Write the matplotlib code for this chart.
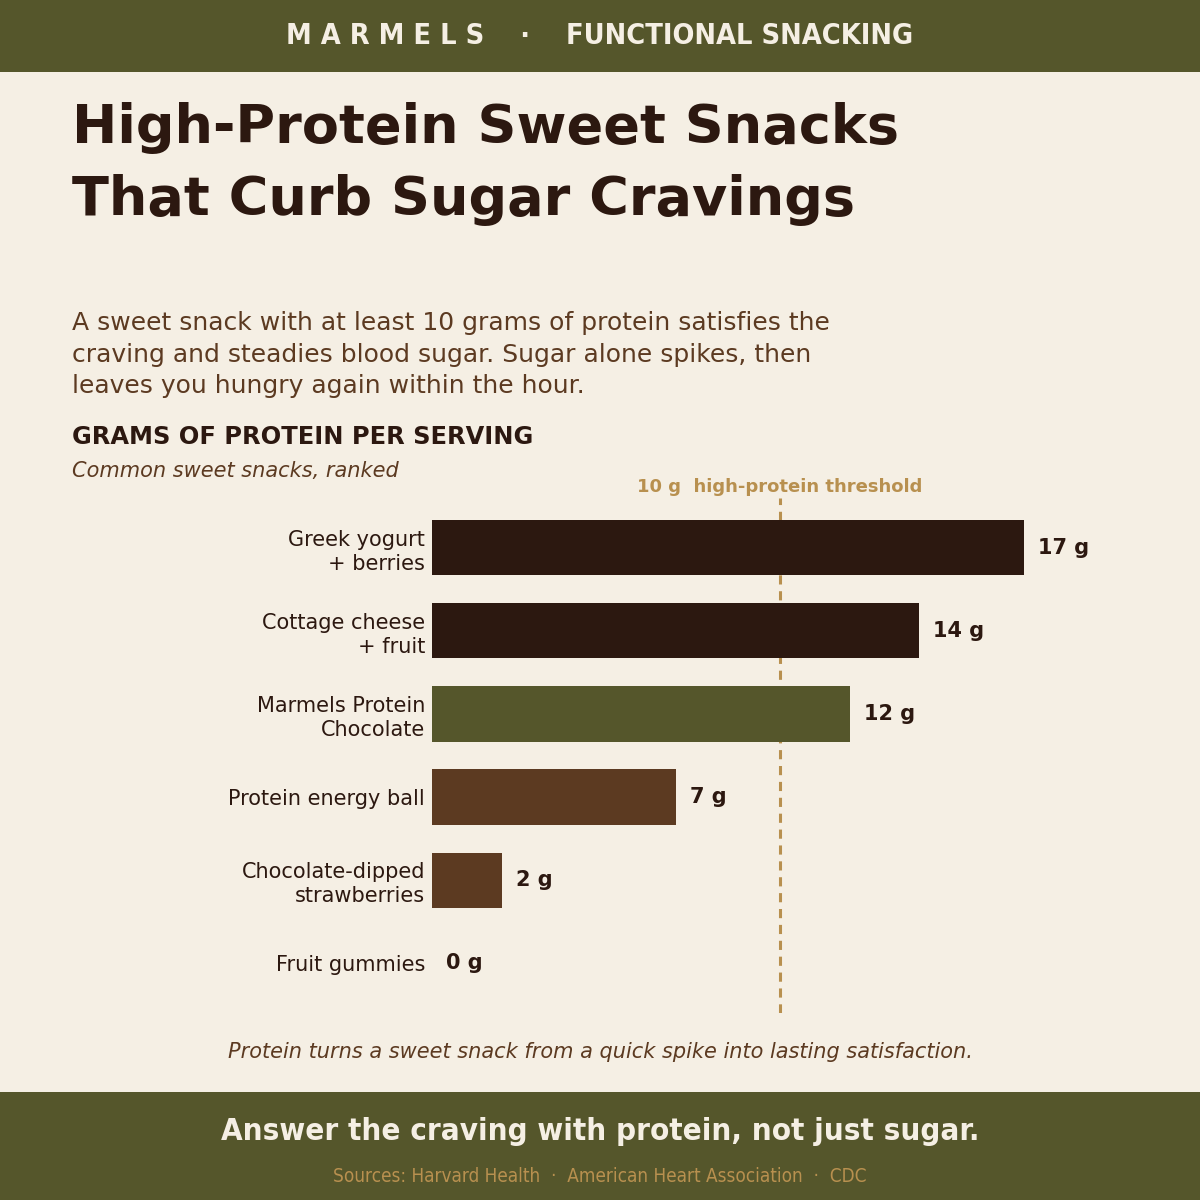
import matplotlib
matplotlib.use("Agg")
import matplotlib.pyplot as plt
from matplotlib.patches import Rectangle
import numpy as np

# data
snacks = ["Greek yogurt\n+ berries", "Cottage cheese\n+ fruit", "Marmels Protein\nChocolate",
          "Protein energy ball", "Chocolate-dipped\nstrawberries", "Fruit gummies"]
protein = [17, 14, 12, 7, 2, 0]
threshold = 10

# palette
BG = "#F5EFE4"
OLIVE = "#55562B"
DARK = "#2C1810"
BROWN = "#5C3A21"
GOLD = "#B8904F"
CREAM = "#F5EFE4"
bar_colors = [DARK, DARK, OLIVE, BROWN, BROWN, BROWN]

W = H = 1200
fig = plt.figure(figsize=(12, 12), dpi=100)
fig.patch.set_facecolor(BG)

def fy(px):
    # pixel from top -> figure fraction
    return 1 - px / H

def fx(px):
    return px / W

# header / footer bands
fig.patches.append(Rectangle((0, fy(72)), 1, 72 / H, transform=fig.transFigure,
                             facecolor=OLIVE, edgecolor="none", zorder=0))
fig.patches.append(Rectangle((0, 0), 1, 108 / H, transform=fig.transFigure,
                             facecolor=OLIVE, edgecolor="none", zorder=0))

fig.text(0.5, fy(36), "M A R M E L S    \u00b7    FUNCTIONAL SNACKING", ha="center", va="center",
         fontsize=20.7, fontweight="bold", fontstretch="condensed", color=CREAM)

# title block
fig.text(fx(72), fy(143), "High-Protein Sweet Snacks", ha="left", va="baseline",
         fontsize=39, fontweight="bold", color=DARK)
fig.text(fx(72), fy(215), "That Curb Sugar Cravings", ha="left", va="baseline",
         fontsize=39, fontweight="bold", color=DARK)

# baseline of a multi-line text is the last line's baseline
fig.text(fx(72), fy(393),
         "A sweet snack with at least 10 grams of protein satisfies the\n"
         "craving and steadies blood sugar. Sugar alone spikes, then\n"
         "leaves you hungry again within the hour.",
         ha="left", va="baseline", fontsize=18, color=BROWN, linespacing=1.39)

fig.text(fx(72), fy(444), "GRAMS OF PROTEIN PER SERVING", ha="left", va="baseline",
         fontsize=17.4, fontweight="bold", color=DARK)
fig.text(fx(72), fy(477), "Common sweet snacks, ranked", ha="left", va="baseline",
         fontsize=15, fontstyle="italic", color=BROWN)

# chart
ax = fig.add_axes([fx(432), fy(1013), fx(1128 - 432), (1013 - 498) / H])
ax.set_facecolor("none")
y = np.arange(len(snacks))
ax.barh(y, protein, height=0.663, color=bar_colors, zorder=2)
ax.set_xlim(0, 20)
ax.set_ylim(len(snacks) - 0.4, -0.6)
ax.axvline(threshold, color=GOLD, linestyle=(0, (3, 2.2)), linewidth=2.2, zorder=1)

for yi, v in zip(y, protein):
    ax.text(v + 0.4, yi, f"{v} g", ha="left", va="center", fontsize=15,
            fontweight="bold", color=DARK)

ax.set_yticks(y)
ax.set_yticklabels(snacks, fontsize=15, color=DARK, linespacing=1.25)
ax.tick_params(axis="y", length=0, pad=5)
ax.set_xticks([])
for s in ax.spines.values():
    s.set_visible(False)

ax.text(threshold, -0.63, "10 g  high-protein threshold", transform=ax.transData,
        ha="center", va="bottom", fontsize=13, fontweight="bold", color=GOLD)

fig.text(0.5, fy(1052), "Protein turns a sweet snack from a quick spike into lasting satisfaction.",
         ha="center", va="center", fontsize=15, fontstyle="italic", color=BROWN)

# footer
fig.text(0.5, fy(1132), "Answer the craving with protein, not just sugar.", ha="center", va="center",
         fontsize=22.4, fontweight="bold", fontstretch="condensed", color=CREAM)
fig.text(0.5, fy(1176), "Sources: Harvard Health  \u00b7  American Heart Association  \u00b7  CDC",
         ha="center", va="center", fontsize=13.6, fontstretch="condensed", color=GOLD)

fig.savefig("out.png", dpi=100, facecolor=BG)
